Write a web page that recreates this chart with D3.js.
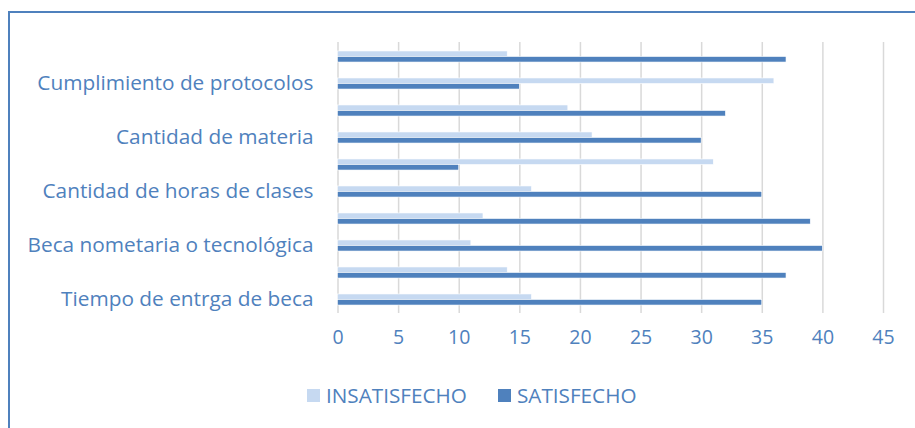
<!DOCTYPE html>
<html>
<head lang="es">
  <title>Satisfaccion</title>
  <script src="https://d3js.org/d3.v7.min.js" charset="utf-8"></script>
  <style>
    body { margin: 0; background: #fff; }
    text { font-family: 'Open Sans', sans-serif; fill: #4f81bd; }
  </style>
</head>
<body>
  <script>

    // data, read top to bottom; only every other category label is shown
    var categories = ["c10", "c9", "c8", "c7", "c6", "c5", "c4", "c3", "c2", "c1"];
    var labels = ["", "Cumplimiento de protocolos", "", "Cantidad de materia", "",
                  "Cantidad de horas de clases", "", "Beca nometaria o tecnológica", "",
                  "Tiempo de entrga de beca"];
    var insatisfecho = [14, 36, 19, 21, 31, 16, 12, 11, 14, 16];
    var satisfecho = [37, 15, 32, 30, 10, 35, 39, 40, 37, 35];
    var series = ["INSATISFECHO", "SATISFECHO"];
    var xTicks = [0, 5, 10, 15, 20, 25, 30, 35, 40, 45];

    var width = 915;
    var height = 428;
    var margin = {top: 43, left: 337.5, right: 32, bottom: 115};
    var innerW = width - margin.left - margin.right;
    var innerH = height - margin.top - margin.bottom;

    var colors = d3.scaleOrdinal().domain(series).range(["#c6d9f1", "#4f81bd"]);

    var svg = d3.select("body")
      .append("svg")
      .attr("width", width)
      .attr("height", height);

    // chart border (runs off the right and bottom edge like the source)
    svg.append("rect")
      .attr("x", 9)
      .attr("y", 12)
      .attr("width", 950)
      .attr("height", 500)
      .attr("fill", "none")
      .attr("stroke", "#4f81bd")
      .attr("stroke-width", 2);

    var g = svg.append("g")
      .attr("transform", "translate(" + margin.left + "," + margin.top + ")");

    var x = d3.scaleLinear()
      .domain([0, 45])
      .range([0, innerW]);

    var y = d3.scaleBand()
      .domain(categories)
      .range([0, innerH])
      .paddingInner(0.59)
      .paddingOuter(0.295);

    var ySub = d3.scaleBand()
      .domain(series)
      .range([0, y.bandwidth()]);

    // gridlines
    g.append("g")
      .attr("class", "grid")
      .call(d3.axisBottom(x).tickValues(xTicks).tickSize(innerH + 1).tickFormat(""))
      .attr("transform", "translate(0,-1)")
      .call(function(s) { s.select(".domain").remove(); })
      .selectAll("line")
        .attr("stroke", "#d9d9d9")
        .attr("stroke-width", 1.5);

    var rows = categories.map(function(c, i) {
      return {cat: c, values: [insatisfecho[i], satisfecho[i]]};
    });

    g.selectAll(".row")
      .data(rows)
      .enter().append("g")
        .attr("class", "row")
        .attr("transform", function(d) { return "translate(0," + y(d.cat) + ")"; })
      .selectAll("rect")
        .data(function(d) { return series.map(function(s, j) { return {s: s, v: d.values[j]}; }); })
      .enter().append("rect")
        .attr("x", x(0))
        .attr("y", function(d) { return ySub(d.s); })
        .attr("width", function(d) { return x(d.v) - x(0); })
        .attr("height", ySub.bandwidth())
        .attr("fill", function(d) { return colors(d.s); })
        .attr("stroke", "#fff")
        .attr("stroke-width", 0.6);

    // category axis
    var yAxis = g.append("g")
      .call(d3.axisLeft(y).tickSize(0).tickPadding(24)
        .tickFormat(function(d, i) { return labels[i]; }));
    yAxis.select(".domain").remove();
    yAxis.selectAll("text")
      .attr("font-size", "20.8px")
      .style("font-family", "'Open Sans', sans-serif")
      .attr("fill", "#4f81bd");

    // value axis
    var xAxis = g.append("g")
      .attr("transform", "translate(0," + innerH + ")")
      .call(d3.axisBottom(x).tickValues(xTicks).tickSize(0).tickPadding(17));
    xAxis.select(".domain").remove();
    xAxis.selectAll("text")
      .attr("font-size", "19.5px")
      .style("font-family", "'Open Sans', sans-serif")
      .attr("fill", "#4f81bd");

    // legend
    var legend = svg.append("g")
      .attr("transform", "translate(307, 389)");

    var legX = [0, 191];
    var item = legend.selectAll(".item")
      .data(series)
      .enter().append("g")
        .attr("transform", function(d, i) { return "translate(" + legX[i] + ",0)"; });

    item.append("rect")
      .attr("width", 13)
      .attr("height", 13)
      .attr("fill", function(d) { return colors(d); });

    item.append("text")
      .attr("x", 19)
      .attr("y", 13.5)
      .attr("font-size", "20.7px")
      .text(function(d) { return d; });

  </script>
</body>
</html>
